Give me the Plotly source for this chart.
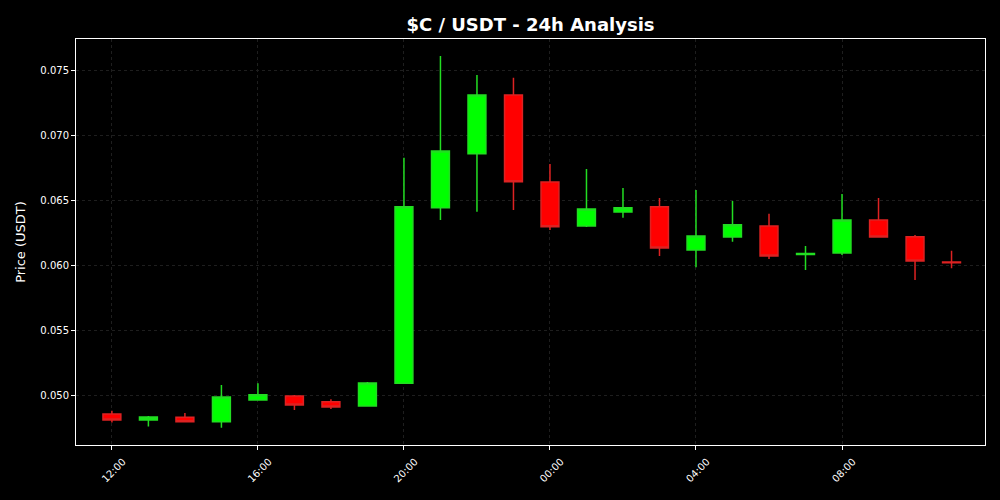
import plotly.graph_objects as go
import pandas as pd

times = pd.date_range("2024-01-01 12:00", periods=24, freq="h")
opens = [0.04862, 0.04816, 0.04836, 0.04803, 0.04969, 0.05000, 0.04956, 0.04923,
         0.05097, 0.06444, 0.06858, 0.07308, 0.06641, 0.06304, 0.06411, 0.06452,
         0.06120, 0.06219, 0.06304, 0.06086, 0.06097, 0.06350, 0.06222, 0.06028]
closes = [0.04816, 0.04839, 0.04803, 0.04992, 0.05010, 0.04931, 0.04916, 0.05100,
          0.06452, 0.06879, 0.07308, 0.06643, 0.06298, 0.06434, 0.06444, 0.06135,
          0.06227, 0.06314, 0.06074, 0.06092, 0.06350, 0.06219, 0.06035, 0.06022]
highs = [0.04887, 0.04847, 0.04870, 0.05084, 0.05097, 0.05008, 0.04975, 0.05107,
         0.06827, 0.07607, 0.07462, 0.07441, 0.06779, 0.06741, 0.06595, 0.06518,
         0.06580, 0.06495, 0.06398, 0.06150, 0.06549, 0.06518, 0.06235, 0.06114]
lows = [0.04796, 0.04765, 0.04803, 0.04757, 0.04964, 0.04893, 0.04900, 0.04918,
        0.05097, 0.06350, 0.06413, 0.06426, 0.06273, 0.06296, 0.06367, 0.06074,
        0.05987, 0.06183, 0.06051, 0.05966, 0.06081, 0.06214, 0.05890, 0.05979]

fig = go.Figure(go.Candlestick(
    x=times, open=opens, high=highs, low=lows, close=closes,
    increasing=dict(line=dict(color="#22dd22", width=1.5), fillcolor="#00ff00"),
    decreasing=dict(line=dict(color="#dd2222", width=1.5), fillcolor="#ff0000"),
    showlegend=False,
))

x0 = pd.Timestamp("2024-01-01 12:00") - pd.Timedelta(minutes=59)
x1 = pd.Timestamp("2024-01-01 12:00") + pd.Timedelta(minutes=int(23.92 * 60))

fig.update_layout(
    width=1000, height=500,
    paper_bgcolor="black", plot_bgcolor="black",
    margin=dict(l=76, r=15, t=39, b=55),
    title=dict(text="<b>$C / USDT - 24h Analysis</b>", x=0.5305, xanchor="center",
               y=0.95, yanchor="middle",
               font=dict(family="DejaVu Sans", size=18, color="white")),
    font=dict(family="DejaVu Sans", color="white", size=10),
    boxgap=0.3,
)
fig.update_xaxes(
    rangeslider_visible=False, range=[x0, x1],
    dtick=4 * 3600 * 1000, tick0="2024-01-01 00:00", tickformat="%H:%M",
    tickangle=-45, ticks="outside", ticklen=4, tickcolor="white",
    ticklabelshift=11, ticklabelstandoff=2,
    showline=True, linecolor="white", linewidth=1, mirror=True,
    showgrid=True, gridcolor="#1e1e1e", griddash="dot", gridwidth=0.8,
    zeroline=False, tickfont=dict(size=10, color="white"),
)
fig.update_yaxes(
    range=[0.04624, 0.07738], dtick=0.005, tick0=0.05, tickformat=".3f",
    ticks="outside", ticklen=4, tickcolor="white",
    showline=True, linecolor="white", linewidth=1, mirror=True,
    showgrid=True, gridcolor="#1e1e1e", griddash="dot", gridwidth=0.8,
    zeroline=False, tickfont=dict(size=10, color="white"),
    title=dict(text="Price (USDT)", font=dict(size=13, color="white"), standoff=11),
)

fig.write_html("out.html", config={"displayModeBar": False},
               post_script="document.body.style.margin='0';document.body.style.background='black';")
